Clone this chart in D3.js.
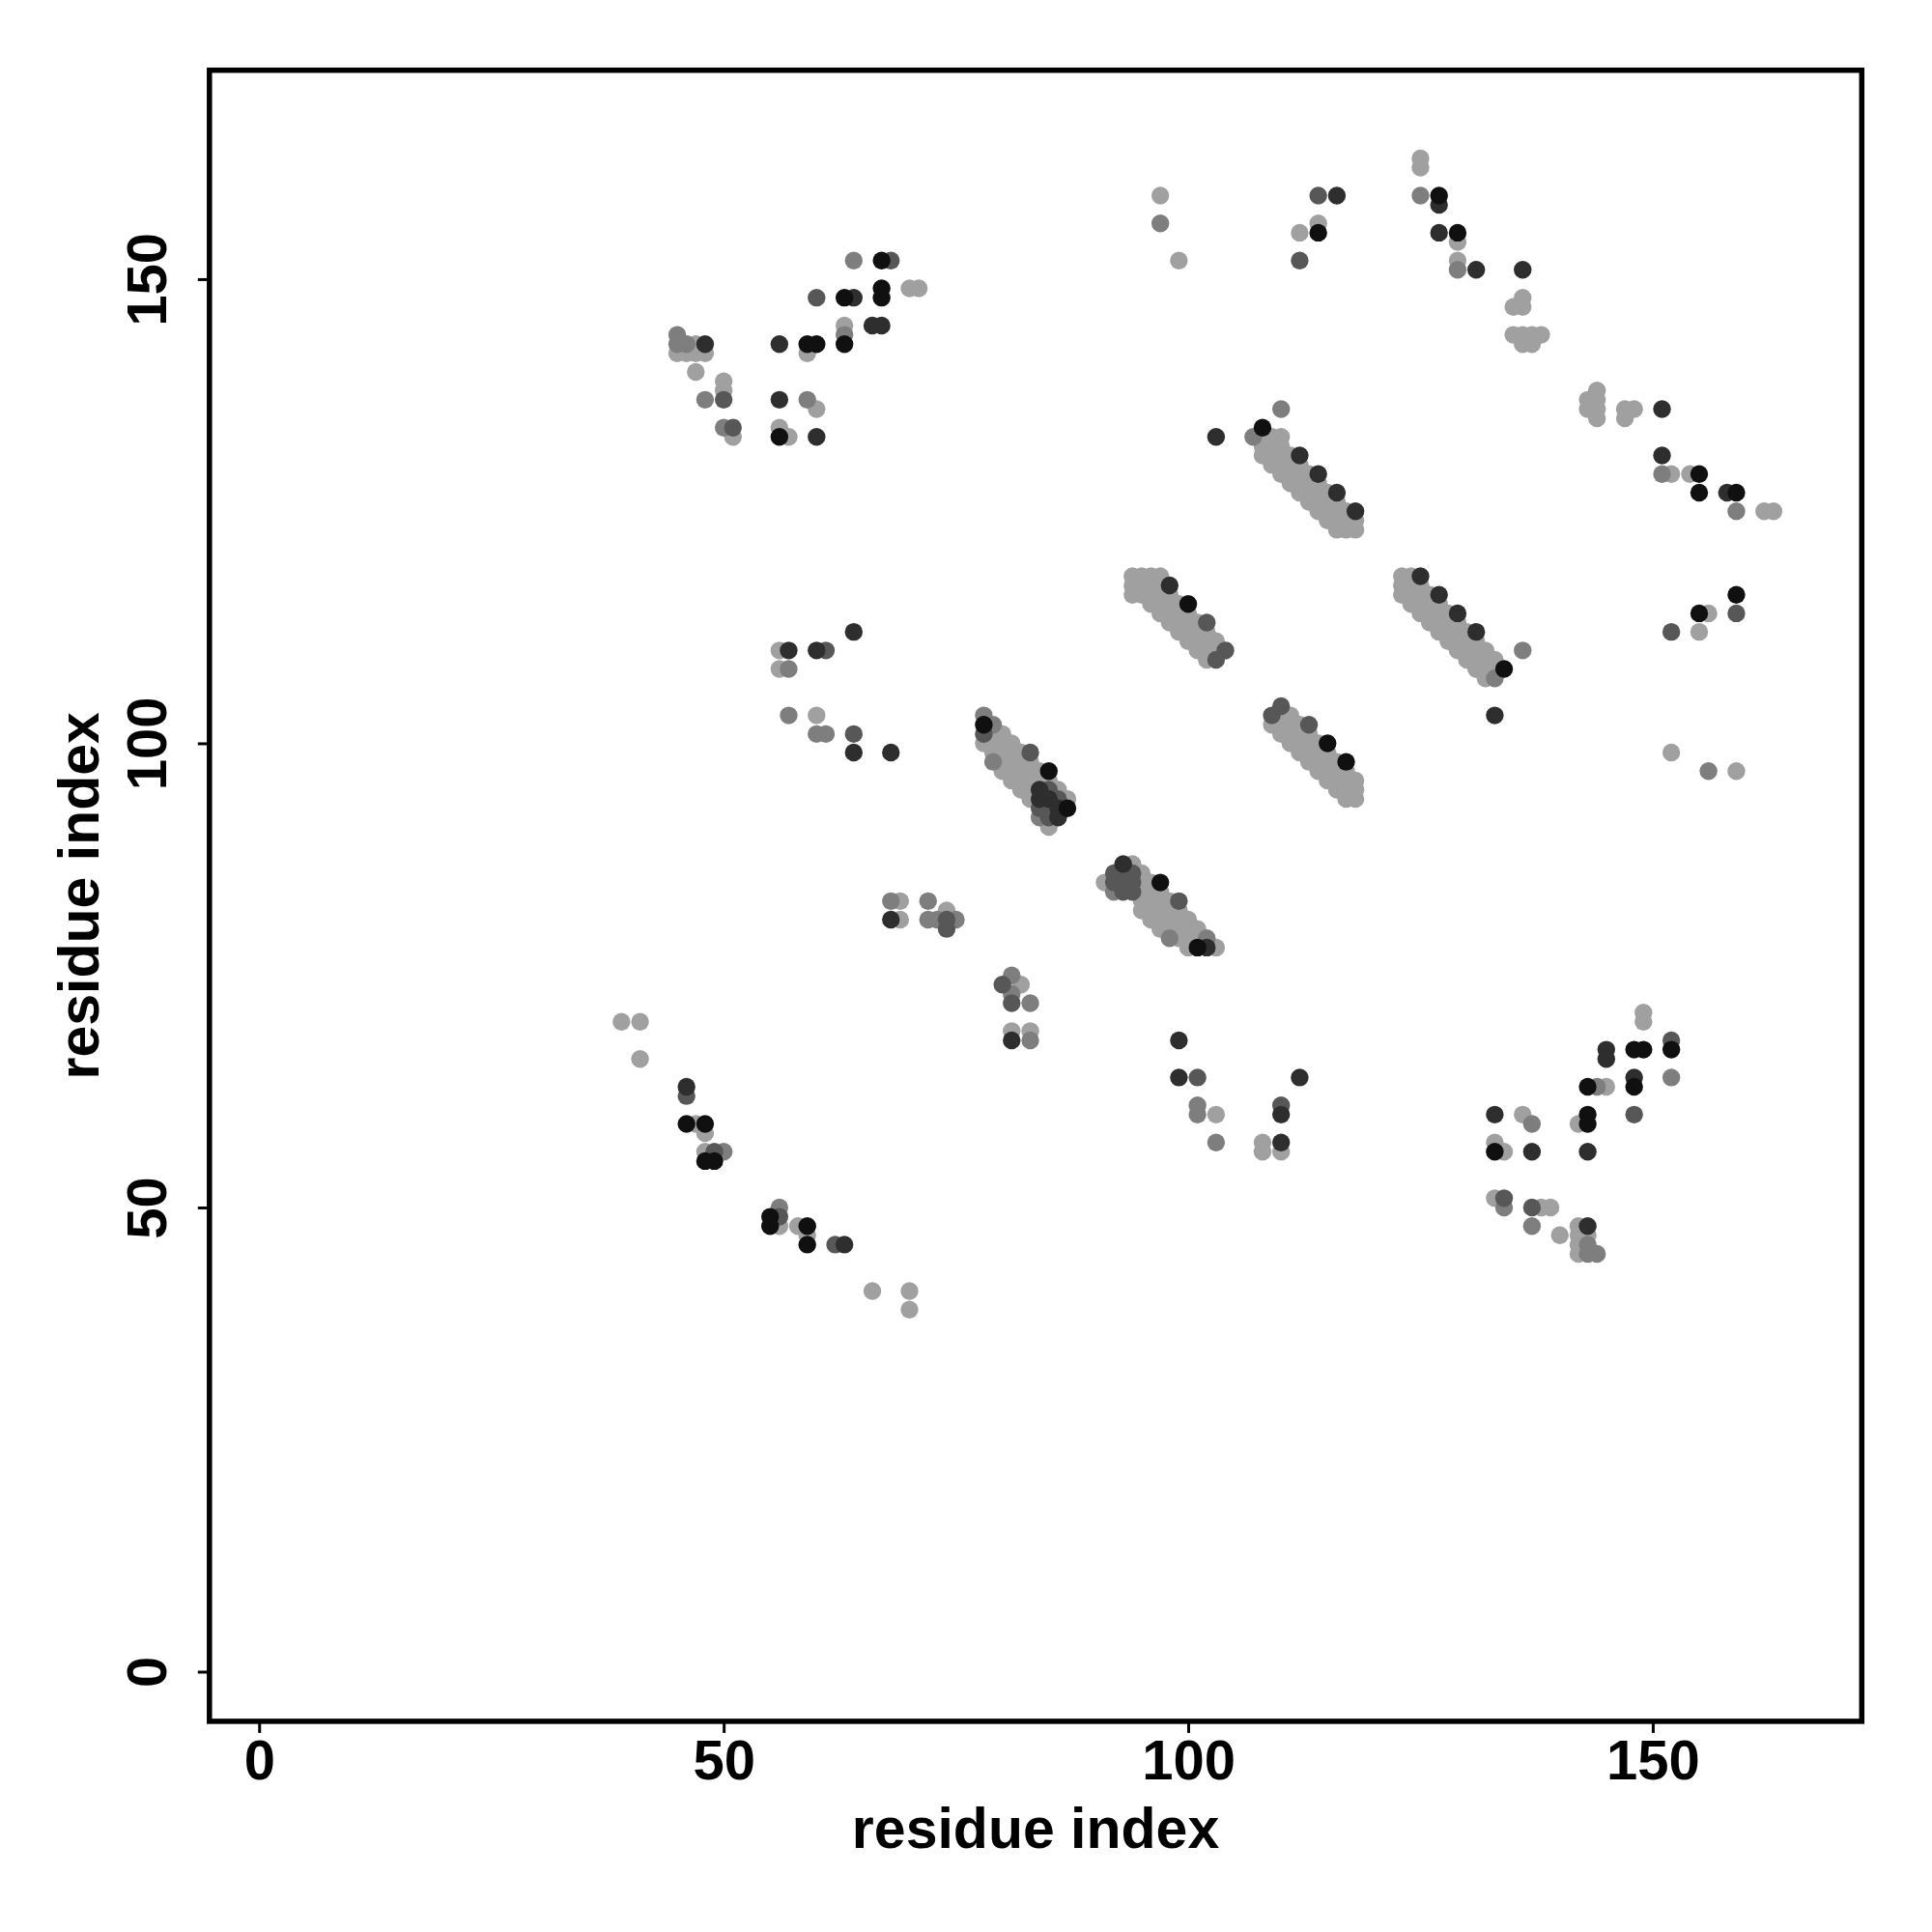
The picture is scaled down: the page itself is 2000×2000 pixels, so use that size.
<!DOCTYPE html>
<html><head><meta charset="utf-8">
<script src="https://cdn.jsdelivr.net/npm/d3@7"></script>
<style>html,body{margin:0;padding:0;background:#fff;} svg{display:block;}</style>
</head><body>
<script>
// ---- data ----
const xTicks = [0, 50, 100, 150];
const yTicks = [0, 50, 100, 150];
const xTitle = "residue index";
const yTitle = "residue index";

// contact pairs [residue i, residue j], grouped by shade
const shadeLight = [
[45,142],[46,142],[47,143],[47,142],[48,142],[47,140],[50,139],[50,138],[51,133],[59,142],[60,136],[56,134],[57,133],[63,145],[70,149],[71,149],
[97,159],[99,152],[112,155],[114,156],[125,163],[125,162],[129,154],[129,152],[136,148],[136,147],[135,147],[135,144],[136,144],[137,144],[138,144],[136,143],[137,143],[144,138],[143,137],[144,137],[143,136],[144,136],[144,135],[147,136],[148,136],[147,135],[152,129],[154,129],[162,125],[163,125],
[156,114],[155,112],[152,99],[159,97],
[56,110],[56,108],[60,103],
[69,83],[69,81],[74,82],
[82,74],[81,69],[83,69],
[39,70],[41,70],[41,66],[47,59],[48,58],[48,56],[56,48],[58,48],[59,47],[66,41],[70,41],[70,39],
[103,60],[108,57],[108,56],[110,56],
[149,71],[149,70],[145,63],[142,59],[136,60],[133,57],[134,56],[133,51],[138,50],[139,50],[140,47],[142,48],[142,47],[142,46],[142,45],[143,47],
[108,131],[108,132],[108,133],[109,130],[109,131],[109,132],[109,133],[110,129],[110,130],[110,131],[110,132],[110,133],
[111,128],[111,129],[111,130],[111,131],[112,127],[112,128],[112,129],[112,130],[113,126],[113,127],[113,128],[113,129],
[114,125],[114,126],[114,127],[114,128],[115,124],[115,125],[115,126],[115,127],[116,123],[116,124],[116,125],[116,126],
[117,123],[117,124],[117,125],[118,123],[118,124],
[109,102],[110,101],[110,102],[110,103],[111,100],[111,101],[111,102],[111,103],[112,99],[112,100],[112,101],[112,102],
[113,98],[113,99],[113,100],[113,101],[114,97],[114,98],[114,99],[114,100],[115,96],[115,97],[115,98],[115,99],
[116,95],[116,96],[116,97],[116,98],[117,94],[117,95],[117,96],[117,97],[118,94],[118,95],[118,96],
[123,116],[123,117],[123,118],[124,115],[124,116],[124,117],[124,118],[125,114],[125,115],[125,116],[125,117],
[126,113],[126,114],[126,115],[126,116],[127,112],[127,113],[127,114],[127,115],[128,111],[128,112],[128,113],[128,114],
[129,110],[129,111],[129,112],[129,113],[130,109],[130,110],[130,111],[130,112],[131,108],[131,109],[131,110],[131,111],
[132,107],[132,108],[132,109],[132,110],[133,108],[133,109],
[94,116],[94,117],[94,118],[95,116],[95,117],[95,118],[96,115],[96,116],[96,117],[96,118],[97,114],[97,115],[97,116],[97,117],[97,118],
[98,113],[98,114],[98,115],[98,116],[99,112],[99,113],[99,114],[99,115],[100,111],[100,112],[100,113],[100,114],
[101,110],[101,111],[101,112],[101,113],[102,109],[102,110],[102,111],[102,112],[103,110],[103,111],
[78,100],[79,99],[79,100],[79,101],[80,97],[80,98],[80,99],[80,100],[80,101],[81,96],[81,97],[81,98],[81,99],[81,100],
[82,95],[82,96],[82,97],[82,98],[82,99],[83,94],[83,95],[83,96],[83,97],[83,98],[84,96],[84,97],[85,96],[86,95],[87,94],[85,91],
[91,85],[94,87],[95,82],[95,83],[95,84],[95,85],[95,86],[96,81],[96,82],[96,83],[96,84],[96,85],
[97,80],[97,81],[97,82],[97,83],[97,84],[98,80],[98,81],[98,82],[98,83],[99,79],[99,80],[99,81],[99,82],
[100,78],[100,79],[100,80],[100,81],[101,79],[101,80],[103,78]
];
const shadeMid = [
[64,152],[63,144],[45,144],[45,143],[46,143],[48,137],[50,134],[59,137],
[97,156],[125,159],[129,151],[151,129],[159,125],
[110,136],[107,133],
[156,97],[136,110],[133,107],
[57,108],[57,103],[60,101],[61,101],
[68,83],[72,83],[72,81],[73,81],[75,81],
[81,75],[81,73],[83,72],[83,68],
[50,56],[56,50],
[101,61],[101,60],[103,57],
[152,64],[144,63],[137,59],[134,50],[137,48],[143,46],[143,45],[144,45],
[78,103],[79,102],[79,98],[84,92],
[92,84],[98,79],[102,79]
];
const shadeDark = [
[68,152],[60,148],[50,137],[51,134],
[114,159],[112,152],
[152,112],[159,114],
[61,110],[64,101],
[74,80],[74,81],
[80,74],[81,72],
[46,62],[49,56],[56,49],[62,46],
[101,64],[110,61],
[152,68],[148,60],[134,51],[137,50],
[102,113],[104,110],[103,109],[109,103],[110,104],[113,102],
[78,101],[83,99],[84,93],[85,95],[85,93],[86,94],[85,92],
[92,86],[92,85],[93,86],[93,85],[93,84],[94,86],[94,85],[94,84],[99,83]
];
const shadeDarker = [
[64,148],[66,145],[67,145],[48,143],[56,143],[56,137],[60,133],
[116,159],[127,158],[127,155],[131,151],[136,151],[151,136],[151,131],[158,127],
[103,133],
[133,103],
[64,112],[57,110],[60,110],[64,99],[68,99],
[68,81],
[81,68],
[46,63],[63,46],
[99,68],[99,64],[112,64],[110,60],[110,57],
[145,67],[145,66],[148,64],[143,56],[133,60],[137,56],[143,48],
[112,131],[114,129],[116,127],[118,125],
[125,118],[127,116],[129,114],[131,112],
[98,117],
[84,95],[84,94],[85,94],[86,93],[86,92],
[93,87],[102,78]
];
const shadeBlack = [
[67,152],[63,148],[67,149],[67,148],[63,143],[59,143],[60,143],[56,133],
[114,155],[127,159],[129,155],[155,129],[155,127],[159,127],
[108,134],
[155,114],[159,116],
[134,108],
[46,59],[48,59],[48,55],[49,55],[55,49],[55,48],[59,48],[59,46],
[148,67],[149,67],[152,67],[148,63],[143,63],[143,60],[143,59],[133,56],
[115,100],[117,98],[100,115],
[78,102],[85,97],[87,93],
[97,85],[101,78]
];

// ---- drawing ----
const W = 2000, H = 2000;
const plot = {left: 216.8, right: 1927.3, top: 72.7, bottom: 1781.9};
const dom = [-5.35, 172.5];
const x = d3.scaleLinear().domain(dom).range([plot.left, plot.right]);
const y = d3.scaleLinear().domain(dom).range([plot.bottom, plot.top]);
const FONT = "'Liberation Sans', Arial, Helvetica, sans-serif";

const svg = d3.select("body").append("svg").attr("width", W).attr("height", H);
svg.append("rect").attr("width", W).attr("height", H).attr("fill", "#fff");

const groups = [
  {pts: shadeLight, color: "#a0a0a0"},
  {pts: shadeMid, color: "#7e7e7e"},
  {pts: shadeDark, color: "#575757"},
  {pts: shadeDarker, color: "#2e2e2e"},
  {pts: shadeBlack, color: "#101010"}
];
const pg = svg.append("g");
groups.forEach(g => {
  pg.append("g").selectAll("circle").data(g.pts).join("circle")
    .attr("cx", d => x(d[0])).attr("cy", d => y(d[1]))
    .attr("r", 9.2).attr("fill", g.color);
});

// x axis
const gx = svg.append("g").attr("transform", `translate(0,${plot.bottom})`)
  .call(d3.axisBottom(x).tickValues(xTicks).tickSize(12).tickFormat(d3.format("d")));
gx.select(".domain").remove();
gx.selectAll(".tick line").attr("stroke", "#000").attr("stroke-width", 3);
gx.selectAll(".tick text").attr("y", 60).attr("dy", 0)
  .attr("font-family", FONT).attr("font-weight", "bold").attr("font-size", 58).attr("fill", "#000");

// y axis
const gy = svg.append("g").attr("transform", `translate(${plot.left},0)`)
  .call(d3.axisLeft(y).tickValues(yTicks).tickSize(12).tickFormat(d3.format("d")));
gy.select(".domain").remove();
gy.selectAll(".tick line").attr("stroke", "#000").attr("stroke-width", 3);
gy.selectAll(".tick text").attr("x", 0).attr("dy", 0)
  .attr("transform", "translate(-45,0) rotate(-90)")
  .attr("text-anchor", "middle")
  .attr("font-family", FONT).attr("font-weight", "bold").attr("font-size", 58).attr("fill", "#000");

// frame
svg.append("rect").attr("x", plot.left).attr("y", plot.top)
  .attr("width", plot.right - plot.left).attr("height", plot.bottom - plot.top)
  .attr("fill", "none").attr("stroke", "#000").attr("stroke-width", 5.5);

// titles
svg.append("text").attr("x", (plot.left + plot.right) / 2).attr("y", 1913)
  .attr("text-anchor", "middle").attr("font-family", FONT).attr("font-weight", "bold")
  .attr("font-size", 59).text(xTitle);
svg.append("text").attr("transform", `translate(102,${(plot.top + plot.bottom) / 2}) rotate(-90)`)
  .attr("text-anchor", "middle").attr("font-family", FONT).attr("font-weight", "bold")
  .attr("font-size", 59).text(yTitle);
</script>
</body></html>
